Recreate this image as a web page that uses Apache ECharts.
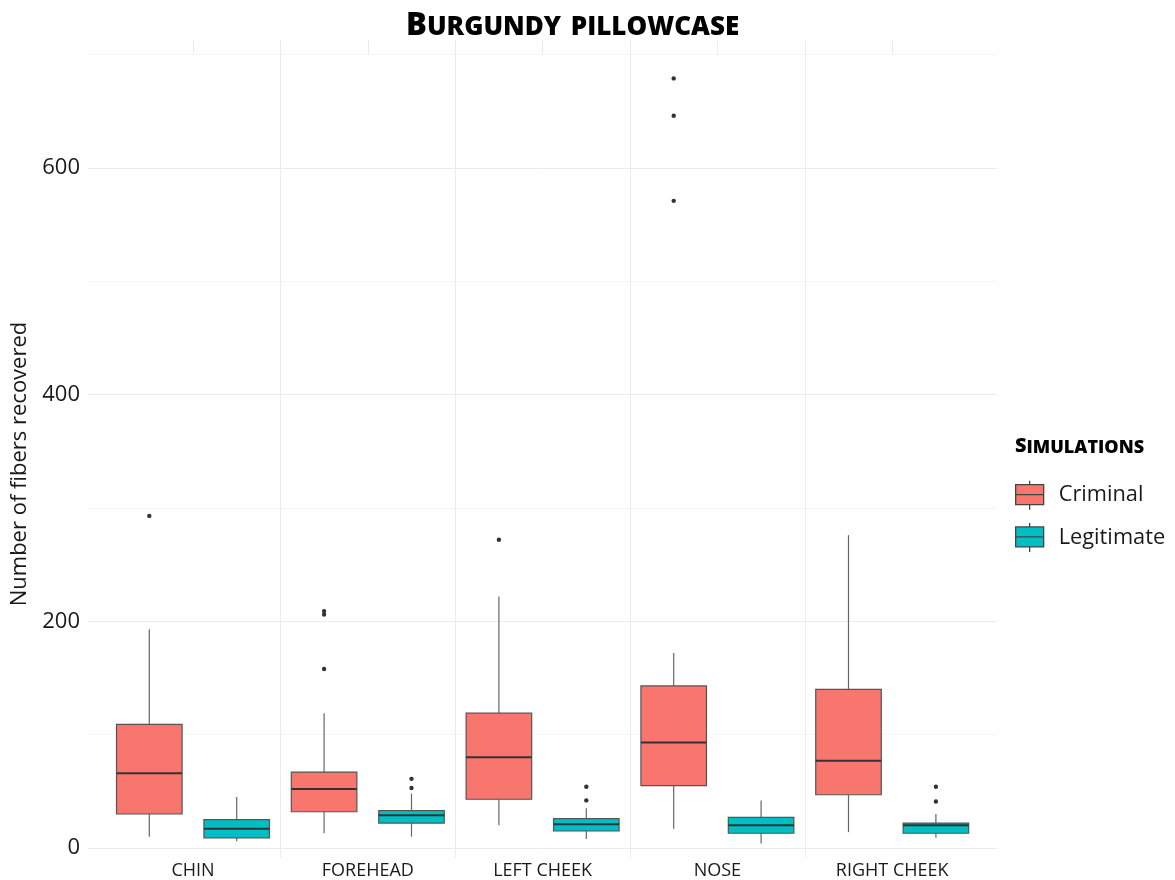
<!DOCTYPE html>
<html>
<head>
<meta charset="utf-8">
<title>Burgundy pillowcase</title>
<script src="https://cdn.jsdelivr.net/npm/echarts@6.0.0/dist/echarts.min.js"></script>
<style>
  html, body { margin: 0; padding: 0; background: #fff; }
  #main { width: 1175px; height: 880px; }
</style>
</head>
<body>
<div id="main"></div>
<script>
// face areas
const categories = ['CHIN', 'FOREHEAD', 'LEFT CHEEK', 'NOSE', 'RIGHT CHEEK'];
// [min, Q1, median, Q3, max] per area
const criminalStats = [
  [10, 30, 66, 109, 193],
  [13, 32, 52, 67, 119],
  [20, 43, 80, 119, 222],
  [17, 55, 93, 143, 172],
  [14, 47, 77, 140, 276]
];
const legitimateStats = [
  [6, 9, 17, 25, 45],
  [10, 22, 29, 33, 48],
  [8, 15, 21, 26, 35],
  [4, 13, 20, 27, 42],
  [9, 13, 20, 22, 30]
];
// [area index, value]
const criminalOutliers = [[0, 293], [1, 209], [1, 206], [1, 158], [2, 272], [3, 679], [3, 646], [3, 571]];
const legitimateOutliers = [[1, 61], [1, 53], [2, 54], [2, 42], [4, 54], [4, 41]];
const yTicks = [0, 200, 400, 600];

const FONT = 'Open Sans';
const TEXT = '#1a1a1a';
const GRID_MAJOR = '#ebebeb';
const GRID_MINOR = '#f5f5f5';

// box drawn from library coords, offset inside the band
const boxRender = (shift) => (params, api) => {
  const x = api.value(0);
  const band = api.size([1, 0])[0];
  const off = shift * band;
  const half = 0.1875 * band;
  const pMin = api.coord([x, api.value(1)]);
  const pQ1 = api.coord([x, api.value(2)]);
  const pMed = api.coord([x, api.value(3)]);
  const pQ3 = api.coord([x, api.value(4)]);
  const pMax = api.coord([x, api.value(5)]);
  const cx = pMed[0] + off;
  const whisker = { stroke: '#666', lineWidth: 1.2 };
  return {
    type: 'group',
    children: [
      { type: 'line', shape: { x1: cx, y1: pQ3[1], x2: cx, y2: pMax[1] }, style: whisker },
      { type: 'line', shape: { x1: cx, y1: pMin[1], x2: cx, y2: pQ1[1] }, style: whisker },
      {
        type: 'rect',
        shape: { x: cx - half, y: pQ3[1], width: half * 2, height: pQ1[1] - pQ3[1] },
        style: { fill: api.visual('color'), stroke: '#555', lineWidth: 1.2 }
      },
      { type: 'line', shape: { x1: cx - half, y1: pMed[1], x2: cx + half, y2: pMed[1] }, style: { stroke: '#333', lineWidth: 2 } }
    ]
  };
};

const dotRender = (shift) => (params, api) => {
  const band = api.size([1, 0])[0];
  const p = api.coord([api.value(0), api.value(1)]);
  return {
    type: 'circle',
    shape: { cx: p[0] + shift * band, cy: p[1], r: 2.2 },
    style: { fill: '#333' }
  };
};

const chart = echarts.init(document.getElementById('main'));

chart.setOption({
  animation: false,
  color: ['#F8766D', '#00BFC4'],
  title: [{
    // small caps: first letter full size, rest synthesised small caps
    text: '{a|B}{b|urgundy pillowcase}',
    left: 406,
    top: 6,
    padding: 0,
    textStyle: {
      rich: {
        a: { fontFamily: FONT, fontSize: 31, fontWeight: 800, color: '#000' },
        b: { fontFamily: FONT, fontSize: 37, fontWeight: 800, fontStyle: 'small-caps', color: '#000', padding: [0, 0, 3, 0] }
      }
    }
  }, {
    text: '{a|S}{b|imulations}',
    left: 1015,
    top: 433,
    padding: 0,
    textStyle: {
      rich: {
        a: { fontFamily: FONT, fontSize: 20, fontWeight: 800, color: '#000' },
        b: { fontFamily: FONT, fontSize: 25, fontWeight: 800, fontStyle: 'small-caps', color: '#000', padding: [0, 0, 2, 0] }
      }
    }
  }],
  legend: {
    data: ['Criminal', 'Legitimate'],
    orient: 'vertical',
    left: 1015,
    top: 480,
    padding: 0,
    itemWidth: 28,
    itemHeight: 29,
    itemGap: 12,
    selectedMode: false,
    icon: 'path://M0 4H28V24H0ZM0 14H28M14 0V4M14 24V29',
    itemStyle: { borderColor: '#444', borderWidth: 1.3 },
    textStyle: { fontFamily: FONT, fontSize: 21.8, color: TEXT, padding: [0, 0, 0, 10] }
  },
  graphic: [{
    type: 'text',
    x: 20,
    y: 464,
    rotation: Math.PI / 2,
    style: {
      text: 'Number of fibers recovered',
      font: '22px "Open Sans"',
      fill: TEXT,
      textAlign: 'center',
      textVerticalAlign: 'middle'
    }
  }],
  grid: [
    { left: 88, top: 54.67, width: 909, height: 793.33 },   // panel: y labels, horizontal lines
    { left: 105.6, top: 40, width: 874, height: 818 },      // boxes
    { left: 193, top: 40, width: 699.2, height: 14 }        // strip above the 700 line
  ],
  xAxis: [{
    gridIndex: 0, type: 'value', show: false
  }, {
    gridIndex: 1,
    type: 'category',
    data: categories,
    axisLine: { show: false },
    axisTick: { show: false },
    axisLabel: { fontFamily: FONT, fontSize: 18, color: TEXT, margin: 4 },
    splitLine: { show: true, showMinLine: false, showMaxLine: false, lineStyle: { color: GRID_MAJOR, width: 1 } }
  }, {
    gridIndex: 2,
    type: 'category',
    boundaryGap: false,
    data: categories,
    axisLine: { show: false },
    axisTick: { show: false },
    axisLabel: { show: false },
    splitLine: { show: true, lineStyle: { color: GRID_MAJOR, width: 1 } }
  }],
  yAxis: [{
    gridIndex: 0,
    type: 'value',
    min: 0,
    max: 700,
    interval: 100,
    axisLine: { show: false },
    axisTick: { show: false },
    axisLabel: {
      fontFamily: FONT, fontSize: 22, color: TEXT, margin: 8,
      formatter: (v) => (yTicks.indexOf(v) >= 0 ? String(v) : '')
    },
    splitLine: { show: true, lineStyle: { color: [GRID_MAJOR, GRID_MINOR], width: 1 } }
  }, {
    gridIndex: 1, type: 'value', min: -8.82, max: 712.9, show: false
  }, {
    gridIndex: 2, type: 'value', show: false
  }],
  series: [{
    name: 'Criminal',
    type: 'custom',
    xAxisIndex: 1,
    yAxisIndex: 1,
    itemStyle: { color: '#F8766D' },
    encode: { x: 0, y: [1, 2, 3, 4, 5] },
    renderItem: boxRender(-0.25),
    data: criminalStats.map((d, i) => [i].concat(d))
  }, {
    name: 'Legitimate',
    type: 'custom',
    xAxisIndex: 1,
    yAxisIndex: 1,
    itemStyle: { color: '#00BFC4' },
    encode: { x: 0, y: [1, 2, 3, 4, 5] },
    renderItem: boxRender(0.25),
    data: legitimateStats.map((d, i) => [i].concat(d))
  }, {
    name: 'Criminal outliers',
    type: 'custom',
    xAxisIndex: 1,
    yAxisIndex: 1,
    encode: { x: 0, y: 1 },
    renderItem: dotRender(-0.25),
    data: criminalOutliers
  }, {
    name: 'Legitimate outliers',
    type: 'custom',
    xAxisIndex: 1,
    yAxisIndex: 1,
    encode: { x: 0, y: 1 },
    renderItem: dotRender(0.25),
    data: legitimateOutliers
  }]
});
</script>
</body>
</html>
